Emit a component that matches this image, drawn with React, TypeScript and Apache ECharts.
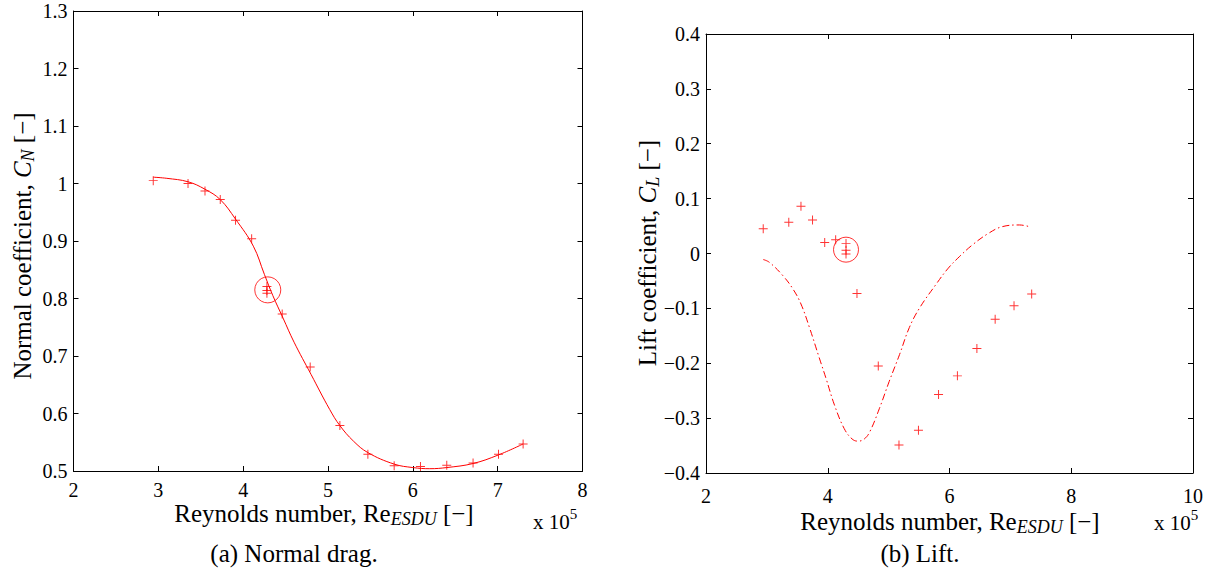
import React, { useEffect, useRef } from "react";
import * as echarts from "echarts";

// ---------- Data ----------
// (a) Normal drag: fitted curve
const leftCurveRe = [2.94, 3.1, 3.35, 3.55, 3.73, 3.91, 4.12, 4.25, 4.35, 4.47, 4.6, 4.8, 5.02, 5.14, 5.3, 5.47, 5.78, 6.0, 6.2, 6.4, 6.71, 7.01, 7.3];
const leftCurveCN = [1.011, 1.009, 1.003, 0.99, 0.972, 0.938, 0.891, 0.842, 0.805, 0.766, 0.724, 0.668, 0.607, 0.579, 0.552, 0.532, 0.512, 0.506, 0.504, 0.506, 0.513, 0.528, 0.547];
// (a) measured points
const leftPointsRe = [2.94, 3.35, 3.55, 3.73, 3.91, 4.1, 4.28, 4.28, 4.28, 4.46, 4.79, 5.14, 5.47, 5.78, 6.09, 6.4, 6.71, 7.01, 7.3];
const leftPointsCN = [1.005, 1.0, 0.987, 0.972, 0.936, 0.904, 0.821, 0.814, 0.809, 0.773, 0.681, 0.579, 0.529, 0.509, 0.508, 0.51, 0.514, 0.529, 0.547];
const leftCircle = [4.29, 0.815];

// (b) Lift: fitted curve
const rightCurveRe = [2.94, 3.04, 3.26, 3.43, 3.56, 3.7, 3.86, 3.97, 4.11, 4.27, 4.4, 4.5, 4.6, 4.69, 4.85, 5.01, 5.18, 5.34, 5.51, 5.78, 5.97, 6.16, 6.38, 6.63, 6.87, 7.15, 7.31];
const rightCurveCL = [-0.011, -0.016, -0.04, -0.065, -0.092, -0.135, -0.19, -0.227, -0.276, -0.319, -0.338, -0.342, -0.338, -0.325, -0.282, -0.233, -0.184, -0.135, -0.099, -0.056, -0.028, -0.006, 0.016, 0.036, 0.049, 0.052, 0.049];
// (b) measured points
const rightPointsRe = [2.94, 3.36, 3.56, 3.75, 3.95, 4.13, 4.3, 4.3, 4.3, 4.48, 4.83, 5.17, 5.49, 5.82, 6.13, 6.45, 6.75, 7.06, 7.35];
const rightPointsCL = [0.045, 0.057, 0.086, 0.061, 0.02, 0.025, 0.018, 0.006, -0.001, -0.073, -0.205, -0.349, -0.322, -0.257, -0.223, -0.173, -0.12, -0.095, -0.074];
const rightCircle = [4.3, 0.007];

const leftX = { min: 2, max: 8, interval: 1 };
const leftY = { min: 0.5, max: 1.3, interval: 0.1 };
const rightX = { min: 2, max: 10, interval: 2 };
const rightY = { min: -0.4, max: 0.4, interval: 0.1 };

// ---------- Styling ----------
const RED = "#ff0000";
const FAMILY = "Liberation Serif";
const PLUS = "path://M4.45,0H5.55V10H4.45ZM0,4.45H10V5.55H0Z";

const zip = (a: number[], b: number[]) => a.map((v, i) => [v, b[i]]);

const fmt = (v: number) => {
  const r = Math.round(v * 10) / 10;
  const s = Number.isInteger(r) ? String(r) : r.toFixed(1);
  return s.replace("-", "\u2212");
};

type Frag = { t: string; size: number; italic?: boolean; dy?: number };

let measureCtx: CanvasRenderingContext2D | null = null;
function fontOf(f: Frag) {
  return `${f.italic ? "italic " : ""}${f.size}px ${FAMILY}`;
}
function measure(f: Frag) {
  if (!measureCtx) measureCtx = document.createElement("canvas").getContext("2d");
  if (!measureCtx) return f.t.length * f.size * 0.5;
  measureCtx.font = fontOf(f);
  return measureCtx.measureText(f.t).width;
}

function label(frags: Frag[], cx: number, cy: number, rotation = 0) {
  const widths = frags.map(measure);
  const total = widths.reduce((a, b) => a + b, 0);
  let x = -total / 2;
  const children = frags.map((f, i) => {
    const el = {
      type: "text",
      x,
      y: f.dy || 0,
      style: {
        text: f.t,
        fontSize: f.size,
        fontFamily: FAMILY,
        fontStyle: f.italic ? "italic" : "normal",
        fill: "#000",
        textAlign: "left",
        textVerticalAlign: "middle",
      },
    };
    x += widths[i];
    return el;
  });
  return { type: "group", x: cx, y: cy, rotation, children };
}

function axisPair(
  kind: "x" | "y",
  grid: number,
  range: { min: number; max: number; interval: number },
  margin: number
) {
  const common = {
    gridIndex: grid,
    type: "value",
    min: range.min,
    max: range.max,
    interval: range.interval,
    splitLine: { show: false },
    axisLine: { show: true, onZero: false, lineStyle: { color: "#000", width: 1 } },
    axisTick: { show: true, inside: true, length: 5, lineStyle: { color: "#000", width: 1 } },
  };
  return [
    {
      ...common,
      position: kind === "x" ? "bottom" : "left",
      axisLabel: {
        show: true,
        margin,
        fontSize: 20,
        fontFamily: FAMILY,
        color: "#000",
        formatter: fmt,
      },
    },
    {
      ...common,
      position: kind === "x" ? "top" : "right",
      axisLabel: { show: false },
    },
  ];
}

const T = 25; // axis title size
const S = 18; // subscript size

export default function App() {
  const ref = useRef<HTMLDivElement>(null);

  useEffect(() => {
    if (!ref.current) return;
    const chart = echarts.init(ref.current, null, { renderer: "svg" });

    const option = {
      animation: false,
      backgroundColor: "#fff",
      textStyle: { fontFamily: FAMILY },
      grid: [
        { left: 73.5, top: 11, width: 509, height: 460, containLabel: false },
        { left: 706, top: 34, width: 487, height: 439, containLabel: false },
      ],
      xAxis: [...axisPair("x", 0, leftX, 9), ...axisPair("x", 1, rightX, 13)],
      yAxis: [...axisPair("y", 0, leftY, 6), ...axisPair("y", 1, rightY, 6)],
      series: [
        {
          type: "scatter",
          xAxisIndex: 0,
          yAxisIndex: 0,
          data: [leftCircle],
          symbol: "circle",
          symbolSize: 26,
          itemStyle: { color: "rgba(0,0,0,0)", borderColor: RED, borderWidth: 1 },
          silent: true,
          z: 1,
        },
        {
          type: "line",
          xAxisIndex: 0,
          yAxisIndex: 0,
          data: zip(leftCurveRe, leftCurveCN),
          smooth: 0.4,
          showSymbol: false,
          symbol: "none",
          lineStyle: { color: RED, width: 1 },
          z: 2,
        },
        {
          type: "scatter",
          xAxisIndex: 0,
          yAxisIndex: 0,
          data: zip(leftPointsRe, leftPointsCN),
          symbol: PLUS,
          symbolSize: 9,
          itemStyle: { color: RED },
          z: 3,
        },
        {
          type: "scatter",
          xAxisIndex: 2,
          yAxisIndex: 2,
          data: [rightCircle],
          symbol: "circle",
          symbolSize: 25,
          itemStyle: { color: "rgba(0,0,0,0)", borderColor: RED, borderWidth: 1 },
          silent: true,
          z: 1,
        },
        {
          type: "line",
          xAxisIndex: 2,
          yAxisIndex: 2,
          data: zip(rightCurveRe, rightCurveCL),
          smooth: 0.4,
          showSymbol: false,
          symbol: "none",
          lineStyle: { color: RED, width: 1, type: [7, 3, 1.5, 3] },
          z: 2,
        },
        {
          type: "scatter",
          xAxisIndex: 2,
          yAxisIndex: 2,
          data: zip(rightPointsRe, rightPointsCL),
          symbol: PLUS,
          symbolSize: 9,
          itemStyle: { color: RED },
          z: 3,
        },
      ],
      graphic: [
        label(
          [
            { t: "Normal coefficient, ", size: T },
            { t: "C", size: T, italic: true },
            { t: "N", size: S, italic: true, dy: 6 },
            { t: " [\u2212]", size: T },
          ],
          22,
          246,
          Math.PI / 2
        ),
        label(
          [
            { t: "Lift coefficient, ", size: T },
            { t: "C", size: T, italic: true },
            { t: "L", size: S, italic: true, dy: 6 },
            { t: " [\u2212]", size: T },
          ],
          647,
          253,
          Math.PI / 2
        ),
        label(
          [
            { t: "Reynolds number, Re", size: T },
            { t: "ESDU", size: S, italic: true, dy: 6 },
            { t: " [\u2212]", size: T },
          ],
          324,
          513
        ),
        label(
          [
            { t: "Reynolds number, Re", size: T },
            { t: "ESDU", size: S, italic: true, dy: 6 },
            { t: " [\u2212]", size: T },
          ],
          950,
          521
        ),
        label(
          [
            { t: "x 10", size: 21 },
            { t: "5", size: 15, dy: -8 },
          ],
          555,
          522
        ),
        label(
          [
            { t: "x 10", size: 21 },
            { t: "5", size: 15, dy: -8 },
          ],
          1176,
          523
        ),
        label([{ t: "(a) Normal drag.", size: 25 }], 294, 553),
        label([{ t: "(b) Lift.", size: 25 }], 920, 553),
      ],
    };

    chart.setOption(option as any);
    return () => chart.dispose();
  }, []);

  return (
    <div
      ref={ref}
      style={{ position: "absolute", left: 0, top: 0, width: 1225, height: 574 }}
    />
  );
}
